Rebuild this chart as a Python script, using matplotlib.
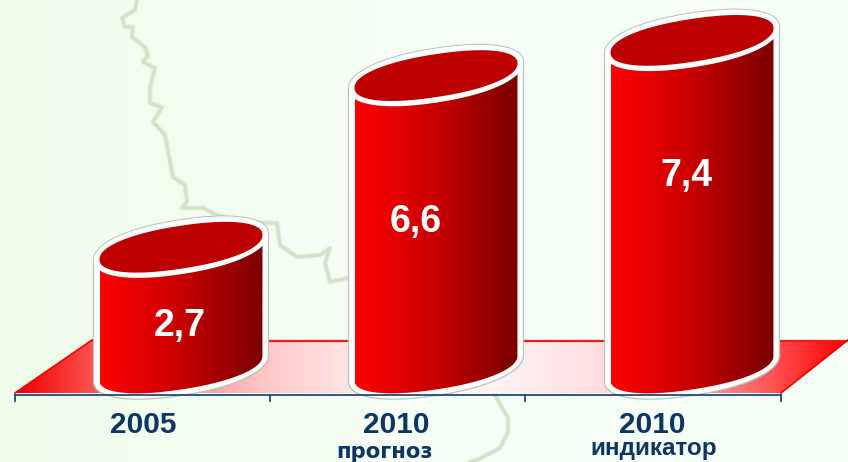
import numpy as np
import matplotlib
matplotlib.use("Agg")
import matplotlib.pyplot as plt
from matplotlib.patches import Polygon, PathPatch
from matplotlib.path import Path
from matplotlib.colors import LinearSegmentedColormap

categories = ["2005", "2010", "2010"]
subtitles = ["", "прогноз", "индикатор"]
values = [2.7, 6.6, 7.4]
value_labels = ["2,7", "6,6", "7,4"]

W, H = 848, 462
fig = plt.figure(figsize=(W / 100, H / 100), dpi=100)
ax = fig.add_axes([0, 0, 1, 1])
PX_X, X0 = 255.2, 142.5
PX_Y, Y0 = 44.0, 366.0
ax.set_xlim(-X0 / PX_X, (W - X0) / PX_X)
ax.set_ylim((Y0 - H) / PX_Y, Y0 / PX_Y)
ax.axis("off")
plt.rcParams["font.family"] = ["Liberation Sans", "DejaVu Sans"]


def X(px):
    return (np.asarray(px, float) - X0) / PX_X


def Y(py):
    return (Y0 - np.asarray(py, float)) / PX_Y


ext = ax.get_xlim() + ax.get_ylim()
bg = np.zeros((2, 200, 3))
c1, c2 = np.array([240, 252, 234]) / 255, np.array([245, 255, 245]) / 255
for i in range(200):
    bg[:, i, :] = c1 + (c2 - c1) * min(1, i / 90)
ax.imshow(bg, extent=ext, aspect="auto", zorder=0)

# pale map border
border1 = [(137, 0), (135, 10), (122, 18), (125, 27), (133, 27), (132, 37), (145, 47), (148, 55),
           (143, 62), (155, 68), (150, 87), (150, 103), (162, 107), (153, 122), (165, 135),
           (173, 177), (185, 185), (187, 202), (182, 208), (203, 208), (217, 215), (240, 222),
           (263, 223), (277, 223), (280, 245), (297, 257), (320, 255), (330, 248), (325, 263),
           (330, 282), (352, 277)]
border2 = [(495, 395), (508, 418), (508, 432), (500, 448), (477, 460), (470, 462)]
for b in (border1, border2):
    pts = np.array(b, float)
    ax.plot(X(pts[:, 0]), Y(pts[:, 1]), color="#e2efd8", lw=3.6, zorder=1,
            solid_joinstyle="round", solid_capstyle="round")
    ax.plot(X(pts[:, 0]), Y(pts[:, 1]), color="#d2e2c8", lw=2.0, zorder=1.1,
            solid_joinstyle="round", solid_capstyle="round")

# floor
floor_cmap = LinearSegmentedColormap.from_list(
    "floor", [(0, "#f00000"), (0.10, "#ff5a5a"), (0.30, "#ffc8c8"), (0.5, "#ffffff"),
              (0.7, "#ffdfe2"), (0.88, "#ff7070"), (1, "#ff0000")])
poly_px = [(15, 393), (92, 340), (848, 340), (781, 393)]
floor_poly = Polygon([(X(a), Y(b)) for a, b in poly_px], closed=True, fc="none", ec="none",
                     transform=ax.transData)
ax.add_patch(floor_poly)
im = ax.imshow(np.linspace(0, 1, 400)[None, :], cmap=floor_cmap,
               extent=(X(15), X(848), Y(394), Y(340)), aspect="auto", zorder=2)
im.set_clip_path(floor_poly)
ax.plot(X([92, 848]), Y([340.5, 340.5]), color="#f01818", lw=1.6, zorder=2.2)
ax.plot(X([15, 92]), Y([393, 340]), color="#f00000", lw=1.2, zorder=2.2)
ax.plot(X([781, 848]), Y([393, 340]), color="#f00000", lw=1.2, zorder=2.2)

# category axis
ax.plot(X([15, 781]), Y([395, 395]), color="#1f4a78", lw=1.3, zorder=5)
for i in range(4):
    xt = i - 0.5
    ax.plot([xt, xt], Y([395, 401]), color="#1f4a78", lw=1.3, zorder=5)

body_cmap = LinearSegmentedColormap.from_list(
    "body", [(0, "#ff0000"), (0.5, "#c80000"), (1, "#7a0000")])

A, B = 81.5, 21.5
SLOPE = 0.15
N = 2.2
T = np.linspace(0, 2 * np.pi, 400, endpoint=False)


def cap(cx, cy, grow=0.0):
    c, s = np.cos(T), np.sin(T)
    ex = (A + grow) * np.sign(c) * np.abs(c) ** (2 / N)
    ey = (B + grow) * np.sign(s) * np.abs(s) ** (2 / N)
    return cx + ex, cy + ey - ex * SLOPE


def cyl_path(cx, cbot, ctop, grow=0.0):
    tx, ty = cap(cx, ctop, grow)
    bx, by = cap(cx, cbot, grow)
    up = np.sin(T) < 0
    lo = np.sin(T) > 0
    ui = np.argsort(tx[up])
    li = np.argsort(-bx[lo])
    return np.r_[tx[up][ui], bx[lo][li]], np.r_[ty[up][ui], by[lo][li]]


centers_px = [181, 436, 692]
text_px = [(180, 326), (416, 222), (686, 176)]
for i, (v, lab) in enumerate(zip(values, value_labels)):
    cx_px = centers_px[i]
    ctop_px = Y0 - v * PX_Y
    cbot_px = Y0 + 2

    xs, ys = cyl_path(cx_px, cbot_px, ctop_px, grow=6)
    ax.fill(X(xs), Y(ys), fc="white", ec="#b9c4b8", lw=0.9, zorder=3)

    xs, ys = cyl_path(cx_px, cbot_px, ctop_px, grow=0)
    clip = PathPatch(Path(np.c_[X(xs), Y(ys)]), transform=ax.transData, fc="none", ec="none")
    ax.add_patch(clip)
    im = ax.imshow(np.linspace(0, 1, 256)[None, :], cmap=body_cmap,
                   extent=(X(cx_px - A), X(cx_px + A), Y(cbot_px + 40), Y(ctop_px - 40)),
                   aspect="auto", zorder=4)
    im.set_clip_path(clip)

    # white band below the cap, then the cap itself
    tx, ty = cap(cx_px, ctop_px, grow=5.5)
    ax.fill(X(tx), Y(ty), fc="white", ec="none", zorder=4.4)
    tx, ty = cap(cx_px, ctop_px, grow=0)
    ax.fill(X(tx), Y(ty), fc="#bd0000", ec="none", zorder=4.5)

    ax.text(X(text_px[i][0]), Y(text_px[i][1]), lab, color="white", fontsize=27,
            fontweight="bold", ha="center", va="center", zorder=6)

label_x = [143, 396, 652]
for i, c in enumerate(categories):
    ax.text(X(label_x[i]), Y(425), c, color="#0f3564", fontsize=21.5, fontweight="bold",
            ha="center", va="center", zorder=6)
ax.text(X(384.5), Y(452), subtitles[1], color="#0f3564", fontsize=15.2, fontweight="bold",
        family=["DejaVu Sans"], ha="center", va="center", zorder=6)
ax.text(X(654), Y(448), subtitles[2], color="#0f3564", fontsize=17.5, fontweight="bold",
        ha="center", va="center", zorder=6)

ax.set_xlim(-X0 / PX_X, (W - X0) / PX_X)
ax.set_ylim((Y0 - H) / PX_Y, Y0 / PX_Y)
fig.savefig("out.png", dpi=100)
